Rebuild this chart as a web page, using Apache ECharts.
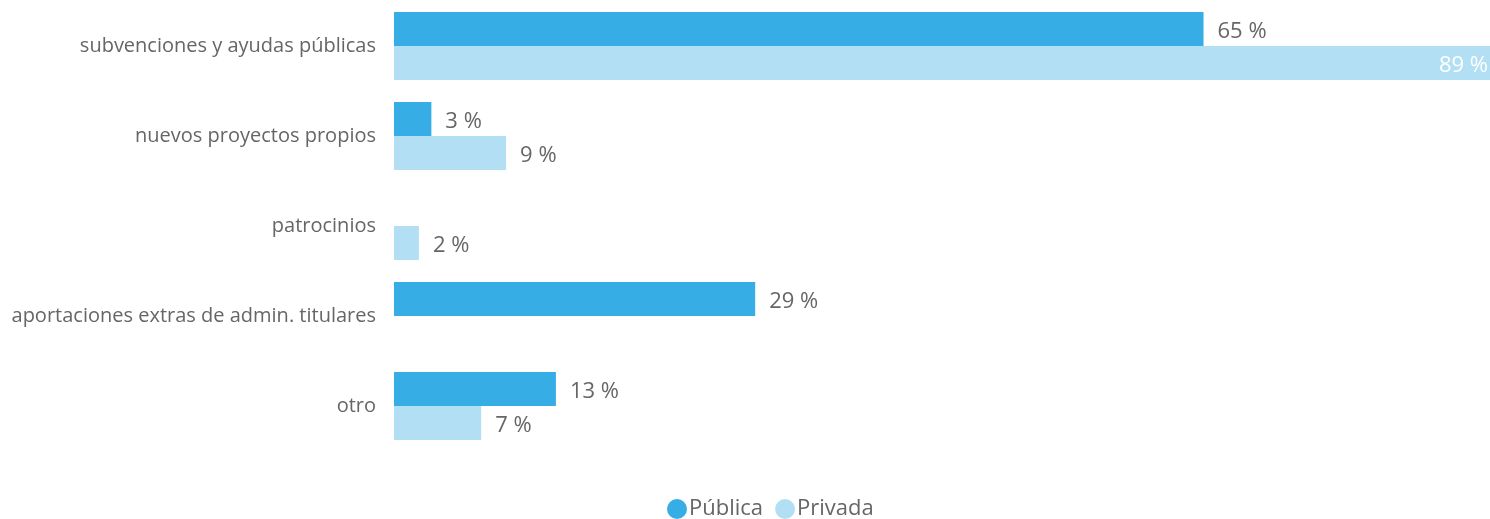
<!DOCTYPE html>
<html>
<head>
<meta charset="utf-8">
<script src="https://cdn.jsdelivr.net/npm/echarts@6/dist/echarts.min.js"></script>
<style>
html,body{margin:0;padding:0;background:#fff;}
#main{width:1490px;height:519px;}
</style>
</head>
<body>
<div id="main"></div>
<script>
const categories = ["subvenciones y ayudas públicas","nuevos proyectos propios","patrocinios","aportaciones extras de admin. titulares","otro"];
const seriesNames = ["Pública","Privada"];
const publica = [65, 3, null, 29, 13];
const privada = [89, 9, 2, null, 7];

const chart = echarts.init(document.getElementById('main'));
const FONT = '"Open Sans", "Noto Sans", sans-serif';
const labelStyle = {show:true, position:'right', distance:14, offset:[0,3], formatter: p => p.value + ' %', color:'#666', fontSize:22, fontFamily:FONT};
const priv = privada.map((v,i)=> i===0 ? {value:v, label:{position:'insideRight', color:'#fff', distance:0, offset:[-2,3]}} : v);
chart.setOption({
  animation:false,
  grid:{left:394, right:0, top:1, bottom:68, containLabel:false},
  xAxis:{type:'value', min:0, max:88, show:false},
  yAxis:{type:'category', data:categories, inverse:true,
    axisLine:{show:false}, axisTick:{show:false}, splitLine:{show:false},
    axisLabel:{color:'#666', fontSize:20, fontFamily:FONT, margin:18}},
  legend:{top:498, left:667, padding:0, icon:'circle', itemWidth:20, itemHeight:20, itemGap:12,
    textStyle:{color:'#666', fontSize:22, fontFamily:FONT, padding:[0,0,0,-3]}, data:seriesNames},
  series:[
    {name:seriesNames[0], type:'bar', data:publica, barWidth:34, barGap:'0%', barCategoryGap:'24%',
     itemStyle:{color:'#36AEE5'}, label:labelStyle},
    {name:seriesNames[1], type:'bar', data:priv, barWidth:34, barGap:'0%',
     itemStyle:{color:'#B2DFF4'}, label:labelStyle}
  ]
});
</script>
</body>
</html>
